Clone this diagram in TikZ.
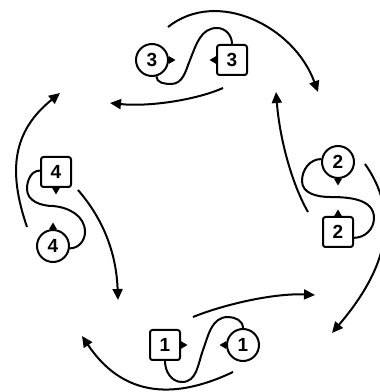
\documentclass[tikz,border=0pt]{standalone}
\usepackage{fontspec}
\setmainfont{Liberation Sans}
\usetikzlibrary{arrows.meta}
\newcommand\mkR[1]{\fill (#1) ++(0,3.8) -- ++(6.5,-3.8) -- ++(-6.5,-3.8) -- cycle;}
\newcommand\mkL[1]{\fill (#1) ++(0,3.8) -- ++(-6.5,-3.8) -- ++(6.5,-3.8) -- cycle;}
\newcommand\mkU[1]{\fill (#1) ++(-3.8,0) -- ++(3.8,6.5) -- ++(3.8,-6.5) -- cycle;}
\newcommand\mkD[1]{\fill (#1) ++(-3.8,0) -- ++(3.8,-6.5) -- ++(3.8,6.5) -- cycle;}
\begin{document}
\begin{tikzpicture}[x=1pt,y=1pt,
  numfont/.style={font=\bfseries\fontsize{19}{19}\selectfont},
  circ/.style={circle,draw,line width=2pt,minimum size=32pt,inner sep=0pt,numfont},
  sq/.style={rectangle,rounded corners=2.5pt,draw,line width=2pt,minimum size=30pt,inner sep=0pt,numfont},
  link/.style={line width=2pt},
  arr/.style={line width=2pt,-{Triangle[length=11pt,width=10pt]}}]
\useasboundingbox (0,0) rectangle (380,392);
% nodes
\node[circ] (c3) at (152,332) {3};
\node[sq]   (s3) at (232,332) {3};
\node[circ] (c2) at (338,230) {2};
\node[sq]   (s2) at (338,160) {2};
\node[sq]   (s1) at (165,47) {1};
\node[circ] (c1) at (243,47) {1};
\node[sq]   (s4) at (56,220) {4};
\node[circ] (c4) at (53,146) {4};
% markers
\mkR{c3.east}
\mkL{s3.west}
\mkD{c2.south}
\mkU{s2.north}
\mkR{s1.east}
\mkL{c1.west}
\mkD{s4.south}
\mkU{c4.north}
% S-shaped links
\draw[link] (c3.-75) to[out=-90,in=180] (171,308) to[out=0,in=-112] (190,332)
  to[out=68,in=180] (217,364) to[out=0,in=90] (s3.north);
\draw[link] (c2.170) to[out=180,in=90] (302,211) to[out=-90,in=180] (330,195)
  to[out=0,in=90] (374,174) to[out=-90,in=0] (s2.-20);
\draw[link] (s1.south) to[out=-90,in=180] (182,10) to[out=0,in=-110] (203,42)
  to[out=70,in=180] (228,75) to[out=0,in=90] (c1.north);
\draw[link] (s4.175) to[out=180,in=90] (27,203) to[out=-90,in=180] (53,186)
  to[out=-5,in=90] (85,160) to[out=-90,in=0] (c4.-8);
% free arrow ends
\coordinate (a1s) at (168,365); \coordinate (a1e) at (318,300);
\coordinate (a2s) at (223,304); \coordinate (a2e) at (110,289);
\coordinate (a3s) at (308,180); \coordinate (a3e) at (276,300);
\coordinate (a4s) at (365,228); \coordinate (a4e) at (332,59);
\coordinate (a5s) at (193,75);  \coordinate (a5e) at (315,97);
\coordinate (a6s) at (233,20);  \coordinate (a6e) at (82,56);
\coordinate (a7s) at (27,165);  \coordinate (a7e) at (60,299);
\coordinate (a8s) at (78,202);  \coordinate (a8e) at (118,92);
% arrows
\draw[arr] (a1s) .. controls (217,404) and (294,366) .. (a1e);
\draw[arr] (a2s) .. controls (196,292) and (149,285) .. (a2e);
\draw[arr] (a3s) .. controls (293,206) and (280,250) .. (a3e);
\draw[arr] (a4s) .. controls (406,170) and (378,113) .. (a4e);
\draw[arr] (a5s) .. controls (225,88) and (275,99) .. (a5e);
\draw[arr] (a6s) .. controls (170,-10) and (121,-2) .. (a6e);
\draw[arr] (a7s) .. controls (7.5,222) and (13,261) .. (a7e);
\draw[arr] (a8s) .. controls (107.5,168) and (116.6,132) .. (a8e);
\end{tikzpicture}
\end{document}
